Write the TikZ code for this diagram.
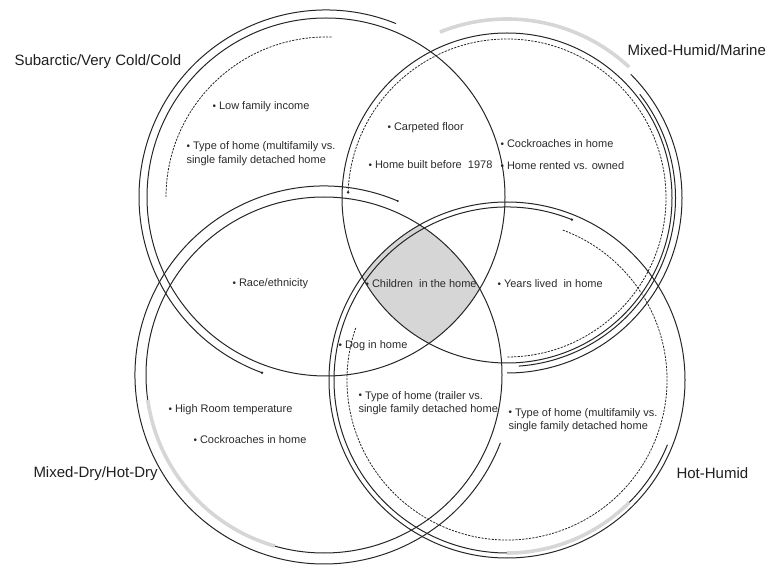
\documentclass[tikz,border=0pt]{standalone}
\usepackage{fontspec}
\usepackage{graphicx}
\setmainfont{Liberation Sans}

\definecolor{linegray}{HTML}{262626}
\definecolor{bandgray}{HTML}{D6D6D6}
\definecolor{textgray}{HTML}{2A2A2A}

\newcommand{\bul}{\raisebox{0.05ex}{\scalebox{0.9}{\textbullet}}\ }

\begin{document}
\begin{tikzpicture}[x=1pt, y=1pt, line width=1pt, draw=linegray,
  every node/.style={inner sep=0pt, text=textgray, font=\fontsize{11}{13.5}\selectfont, align=left},
  zonelabel/.style={font=\fontsize{15}{17}\selectfont, text=black!88},
  dashring/.style={line width=0.8pt, dash pattern=on 2.2pt off 1.2pt},
  zoneband/.style={line width=3.6pt, draw=bandgray}]

\useasboundingbox (0,0) rectangle (768,568);

% region shared by all four zones
\begin{scope}
\clip (326,371) circle[radius=179];
\clip (507,370) circle[radius=165];
\clip (324,193) circle[radius=178];
\fill[bandgray] (507,188) circle[radius=178];
\end{scope}

% the four zones
\draw (326,371) circle[radius=179];
\draw (507,370) circle[radius=165];
\draw (324,193) circle[radius=178];
\draw (507,188) circle[radius=178];

% Subarctic/Very Cold/Cold
\draw (326,371) ++(68:187) arc[start angle=68, end angle=250, radius=187];
\fill[linegray] (326,371) ++(250:187) circle[radius=1.4];
\draw[dashring] (326,371) ++(88:160) arc[start angle=88, end angle=180, radius=160];

% Mixed-Humid/Marine
\draw[zoneband] (507,370) ++(47:179) arc[start angle=47, end angle=112, radius=179];
\draw (507,370) ++(45:175) arc[start angle=45, end angle=-90, radius=175];
\draw (507,370) ++(38:168.5) arc[start angle=38, end angle=-86, radius=168.5];
\draw[dashring] (507,370) ++(178:159) arc[start angle=178, end angle=-90, radius=159];
\fill[linegray] (507,370) ++(178:159) circle[radius=1.4];

% Mixed-Dry/Hot-Dry
\draw (324,193) ++(67:189) arc[start angle=67, end angle=339, radius=189];
\fill[linegray] (324,193) ++(67:189) circle[radius=1.1];
\draw[zoneband] (324,193) ++(188:178) arc[start angle=188, end angle=254, radius=178];

% Hot-Humid
\draw (507,188) ++(68:173) arc[start angle=68, end angle=270, radius=173];
\fill[linegray] (507,188) ++(68:173) circle[radius=1.4];
\draw[zoneband] (507,188) ++(270:173) arc[start angle=270, end angle=315, radius=173];
\draw (507,188) ++(315:173) arc[start angle=315, end angle=338, radius=173];
\draw[dashring] (507,188) ++(161:160) arc[start angle=161, end angle=430, radius=160];

% zone names
\node[zonelabel, anchor=west] (subarctic) at (14,506) {Subarctic/Very Cold/Cold};
\node[zonelabel, anchor=west] (marine) at (627,518) {Mixed-Humid/Marine};
\node[zonelabel, anchor=west] (hotdry) at (33,94) {Mixed-Dry/Hot-Dry};
\node[zonelabel, anchor=west] (hothumid) at (676,95) {Hot-Humid};

% factors
\node[anchor=west] (income) at (212,461) {\bul Low family income};
\node[anchor=west] (multiA) at (186,414.5) {\bul Type of home (multifamily vs.\\single family detached home};
\node[anchor=west] (carpet) at (387,440) {\bul Carpeted floor};
\node[anchor=west] (built) at (368,403) {\bul Home built before\ \ 1978};
\node[anchor=west] (roachB) at (500,424) {\bul Cockroaches in home};
\node[anchor=west] (rented) at (500,402) {\bul Home rented vs. owned};
\node[anchor=west] (race) at (232,284) {\bul Race/ethnicity};
\node[anchor=west] (children) at (365,284) {\bul Children\ \ in the home};
\node[anchor=west] (years) at (497,284) {\bul Years lived\ \ in home};
\node[anchor=west] (dog) at (338,222) {\bul Dog in home};
\node[anchor=west] (roomtemp) at (168,158) {\bul High Room temperature};
\node[anchor=west] (roachC) at (193,128) {\bul Cockroaches in home};
\node[anchor=west] (trailer) at (358,165) {\bul Type of home (trailer vs.\\single family detached home};
\node[anchor=west] (multiD) at (508,148) {\bul Type of home (multifamily vs.\\single family detached home};

\end{tikzpicture}
\end{document}
